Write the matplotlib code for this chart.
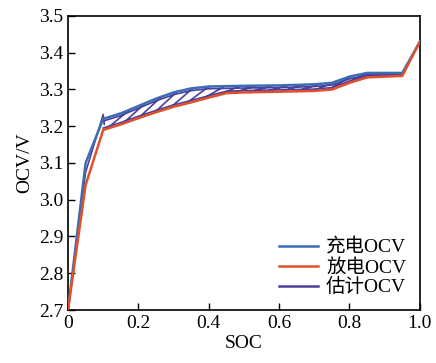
import matplotlib
matplotlib.use("Agg")
import matplotlib.pyplot as plt
import numpy as np

plt.rcParams['font.family'] = ['Liberation Serif', 'Noto Sans CJK SC']

nan = np.nan

# charge OCV
soc_c = [0, 0.05, 0.1, 0.15, 0.2, 0.25, 0.3, 0.35, 0.4, 0.5, 0.6, 0.7, 0.75, 0.8, 0.85, 0.9, 0.95, 1.0]
ocv_c = [2.70, 3.10, 3.22, 3.235, 3.255, 3.275, 3.292, 3.303, 3.308, 3.310, 3.311, 3.314, 3.318,
         3.335, 3.345, 3.345, 3.345, 3.43]

# discharge OCV
soc_d = [0, 0.05, 0.1, 0.15, 0.2, 0.25, 0.3, 0.35, 0.4, 0.45, 0.5, 0.6, 0.7, 0.75, 0.8, 0.85, 0.9, 0.95, 1.0]
ocv_d = [2.70, 3.04, 3.19, 3.205, 3.222, 3.238, 3.253, 3.265, 3.278, 3.29, 3.292, 3.294, 3.296,
         3.30, 3.318, 3.333, 3.335, 3.337, 3.43]

# estimated OCV: start, hatch strokes between the curves, and the end
soc_e_start = [0, 0.05, 0.1, 0.103]
ocv_e_start = [2.70, 3.075, 3.232, 3.205]
soc_e_lo = [0.11, 0.155, 0.20, 0.245, 0.29, 0.335, 0.38, 0.425, 0.47, 0.515, 0.56, 0.605,
            0.65, 0.695, 0.74, 0.785, 0.83, 0.875]
ocv_e_lo = [3.193, 3.2067, 3.222, 3.2364, 3.250, 3.2614, 3.2728, 3.284, 3.2908, 3.2923, 3.2932,
            3.2941, 3.295, 3.2959, 3.2992, 3.3126, 3.327, 3.334]
soc_e_hi = [0.175, 0.22, 0.265, 0.31, 0.355, 0.40, 0.445, 0.49, 0.535, 0.58, 0.625, 0.67,
            0.715, 0.76, 0.805, 0.85, 0.895, 0.94]
ocv_e_hi = [3.245, 3.263, 3.2801, 3.2942, 3.3035, 3.308, 3.3089, 3.3098, 3.3104, 3.3108, 3.3118,
            3.3131, 3.3152, 3.3214, 3.336, 3.345, 3.345, 3.345]
soc_e_end = [0.95, 1.0]
ocv_e_end = [3.342, 3.43]
# estimated OCV running just inside the charge and discharge curves
soc_e_top = [0.1, 0.15, 0.2, 0.25, 0.3, 0.35, 0.4, 0.5, 0.6, 0.7, 0.75, 0.8, 0.85, 0.9, 0.95]
ocv_e_top = [3.214, 3.229, 3.249, 3.269, 3.286, 3.297, 3.302, 3.304, 3.305, 3.308, 3.312,
             3.329, 3.339, 3.339, 3.339]
soc_e_bot = [0.1, 0.15, 0.2, 0.25, 0.3, 0.35, 0.4, 0.45, 0.5, 0.6, 0.7, 0.75, 0.8, 0.85, 0.9, 0.95]
ocv_e_bot = [3.195, 3.210, 3.227, 3.243, 3.258, 3.270, 3.283, 3.295, 3.297, 3.299, 3.301, 3.305,
             3.323, 3.338, 3.340, 3.342]

# join the pieces into one series, broken with NaN
soc_e = list(soc_e_start) + [nan]
ocv_e = list(ocv_e_start) + [nan]
for xl, yl, xh, yh in zip(soc_e_lo, ocv_e_lo, soc_e_hi, ocv_e_hi):
    soc_e += [xl, xh, nan]
    ocv_e += [yl, yh, nan]
soc_e += soc_e_top + [nan] + soc_e_bot + [nan] + soc_e_end
ocv_e += ocv_e_top + [nan] + ocv_e_bot + [nan] + ocv_e_end

fig = plt.figure(figsize=(4.36, 3.63), dpi=100)
ax = fig.add_axes([0.156, 0.146, 0.807, 0.81])

ax.plot(soc_c, ocv_c, color='#3b6db3', lw=1.8, label='充电OCV', zorder=3)
ax.plot(soc_d, ocv_d, color='#e2502a', lw=1.8, label='放电OCV', zorder=3)
ax.plot(soc_e, ocv_e, color='#4a3f9c', lw=1.2, label='估计OCV', zorder=2)

ax.set_xlim(0, 1.0)
ax.set_ylim(2.7, 3.5)
ax.set_xticks([0, 0.2, 0.4, 0.6, 0.8, 1.0])
ax.set_xticklabels(['0', '0.2', '0.4', '0.6', '0.8', '1.0'])
ax.set_yticks([2.7, 2.8, 2.9, 3.0, 3.1, 3.2, 3.3, 3.4, 3.5])
ax.set_yticklabels(['2.7', '2.8', '2.9', '3.0', '3.1', '3.2', '3.3', '3.4', '3.5'])
ax.tick_params(direction='in', labelsize=14, length=5, width=1)
for s in ax.spines.values():
    s.set_linewidth(1.2)

ax.set_xlabel('SOC', fontsize=14, labelpad=2)
ax.set_ylabel('OCV/V', fontsize=14, labelpad=4)

leg = ax.legend(loc='lower right', frameon=False, fontsize=14, handlelength=2.0,
                handletextpad=0.4, labelspacing=0.1, borderaxespad=0.3)
for h in leg.get_lines():
    h.set_linewidth(1.8)

fig.savefig('out.png', dpi=100)
